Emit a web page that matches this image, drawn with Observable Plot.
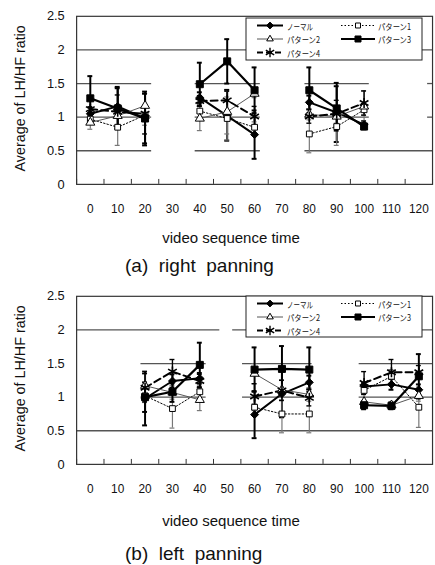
<!DOCTYPE html>
<html><head><meta charset="utf-8">
<script src="https://cdn.jsdelivr.net/npm/d3@7"></script>
<script src="https://cdn.jsdelivr.net/npm/@observablehq/plot@0.6"></script>
<style>
body{margin:0;background:#fff;overflow:hidden}
#wrap{position:relative;width:435px;height:565px;overflow:hidden;background:#fff;font-family:"Liberation Sans",Arial,sans-serif}
.panel{position:absolute;left:0}
#overlay{position:absolute;left:0;top:0;pointer-events:none}
</style></head><body><div id="wrap"></div>
<script>
// ---- data ----
const times = [0,10,20,30,40,50,60,70,80,90,100,110,120];
const yTicks = [0,0.5,1,1.5,2,2.5];
const seriesNames = ["ノーマル","パターン1","パターン2","パターン3","パターン4"];
const yTitle = "Average of LH/HF ratio";
const xTitle = "video sequence time";
const panelTitles = ["(a)  right  panning","(b)  left  panning"];

// right panning
const rNormal  = [1.05,1.16,0.98,null,1.29,1.02,0.74,null,1.22,1.07,0.89,null,null];
const rNormalE = [0.10,0.29,0.40,null,0.08,0.37,0.36,null,0.10,0.44,0.05,null,null];
const rP1      = [0.97,0.85,1.03,null,1.09,0.98,0.85,null,0.75,0.86,1.11,null,null];
const rP1E     = [0.06,0.27,0.15,null,0.10,0.32,0.08,null,0.28,0.28,0.08,null,null];
const rP2      = [0.92,1.02,1.17,null,0.98,1.08,1.35,null,1.04,1.01,1.16,null,null];
const rP2E     = [0.10,0.15,0.18,null,0.18,0.33,0.06,null,0.08,0.10,0.23,null,null];
const rP3      = [1.28,1.13,0.98,null,1.49,1.83,1.40,null,1.40,1.13,0.86,null,null];
const rP3E     = [0.33,0.30,0.37,null,0.32,0.33,0.34,null,0.34,0.33,0.04,null,null];
const rP4      = [1.12,1.08,1.05,null,1.24,1.25,1.01,null,1.01,1.05,1.21,null,null];
const rP4E     = [0.14,0.25,0.30,null,0.08,0.16,0.15,null,0.10,0.20,0.18,null,null];

// left panning
const lNormal  = [null,null,0.98,1.24,1.28,null,0.74,1.05,1.22,null,1.16,1.19,1.11];
const lNormalE = [null,null,0.40,0.10,0.08,null,0.35,0.35,0.10,null,0.05,0.08,0.08];
const lP1      = [null,null,1.02,0.83,1.08,null,0.85,0.75,0.75,null,1.10,1.31,0.85];
const lP1E     = [null,null,0.10,0.29,0.10,null,0.05,0.28,0.28,null,0.05,0.10,0.30];
const lP2      = [null,null,1.17,1.07,0.96,null,1.35,1.11,1.04,null,0.93,0.88,1.02];
const lP2E     = [null,null,0.18,0.10,0.16,null,0.15,0.15,0.10,null,0.11,0.05,0.08];
const lP3      = [null,null,1.00,1.08,1.48,null,1.41,1.42,1.41,null,0.88,0.87,1.31];
const lP3E     = [null,null,0.22,0.15,0.33,null,0.33,0.34,0.33,null,0.06,0.05,0.33];
const lP4      = [null,null,1.14,1.38,1.24,null,1.01,1.10,0.99,null,1.21,1.37,1.37];
const lP4E     = [null,null,0.21,0.18,0.10,null,0.19,0.15,0.12,null,0.17,0.19,0.10];

// partial gridline segments (data units)
const gridRight = [
  {y:2, x1:-5, x2:125},
  {y:1.5, x1:-5, x2:22.4},{y:1.5, x1:38.3, x2:62.1},{y:1.5, x1:78.4, x2:101.9},{y:1.5, x1:123.2, x2:125},
  {y:1, x1:-5, x2:22.4},{y:1, x1:38.3, x2:62.1},{y:1, x1:78.4, x2:101.9},{y:1, x1:123.2, x2:125},
  {y:0.5, x1:-5, x2:22.4},{y:0.5, x1:38.3, x2:62.1},{y:0.5, x1:78.4, x2:125}
];
const gridLeft = [
  {y:2, x1:-5, x2:47.3},{y:2, x1:52, x2:125},
  {y:1.5, x1:18.5, x2:42.3},{y:1.5, x1:55.6, x2:81},{y:1.5, x1:98.2, x2:125},
  {y:1, x1:18.5, x2:42.3},{y:1, x1:55.6, x2:81},{y:1, x1:98.2, x2:125},
  {y:0.5, x1:-5, x2:125}
];

// ---- styles ----
const styles = [
  {symbol:"diamond2", fill:"#000", stroke:"#000", r:3.6, lw:2,   dash:null,    ec:"#000", ew:2,   lr:0.85},
  {symbol:"square",   fill:"#fff", stroke:"#000", r:3.3, lw:1,   dash:"1.5,2", ec:"#777", ew:1.2, lr:0.85},
  {symbol:"triangle", fill:"#fff", stroke:"#000", r:3.4, lw:1,   dash:null,    ec:"#777", ew:1.2, lc:"#555", lr:0.72},
  {symbol:"square",   fill:"#000", stroke:"#000", r:4.0, lw:2.2, dash:null,    ec:"#000", ew:2,   lr:0.85},
  {symbol:"asterisk", fill:"none", stroke:"#000", r:4.8, lw:2,   dash:"7,4",   ec:"#000", ew:1.4, lr:0.95}
];

const wrap = document.getElementById("wrap");
const bounds = d3.range(-5, 126, 10);

function rows(vals, errs) {
  return times.map((t, i) => ({t, v: vals[i], e: errs[i]}));
}

function panel(seriesVals, seriesErrs, grid, top) {
  const marks = [
    Plot.ruleY(grid, {y:"y", x1:"x1", x2:"x2", stroke:"#555", strokeWidth:1.3}),
    Plot.frame({stroke:"#333", strokeWidth:1.2}),
    Plot.axisY({ticks: yTicks, tickSize:0, tickPadding:12, fontSize:13, label:null, tickFormat: d => String(d)}),
    Plot.axisX({ticks: times, tickSize:0, tickPadding:20, fontSize:12, label:null, tickFormat: d => String(d)}),
    Plot.axisX({ticks: bounds, tickSize:5, dy:-5, label:null, tickFormat: () => "", stroke:"#333"}),
    Plot.text([yTitle], {frameAnchor:"left", textAnchor:"middle", rotate:-90, dx:-57, dy:-2, fontSize:14.5, fill:"#111"})
  ];
  seriesVals.forEach((vals, k) => {
    const s = styles[k];
    const data = rows(vals, seriesErrs[k]);
    const pts = data.filter(d => d.v != null);
    marks.push(
      Plot.ruleX(pts, {x:"t", y1: d => d.v - d.e, y2: d => d.v + d.e, stroke:s.ec, strokeWidth:s.ew}),
      Plot.ruleY(pts, {y: d => d.v + d.e, x1: d => d.t - 0.9, x2: d => d.t + 0.9, stroke:s.ec, strokeWidth:s.ew}),
      Plot.ruleY(pts, {y: d => d.v - d.e, x1: d => d.t - 0.9, x2: d => d.t + 0.9, stroke:s.ec, strokeWidth:s.ew})
    );
  });
  seriesVals.forEach((vals, k) => {
    const s = styles[k];
    const data = rows(vals, seriesErrs[k]);
    marks.push(
      Plot.line(data, {x:"t", y:"v", stroke: s.lc || "#000", strokeWidth:s.lw, strokeDasharray:s.dash})
    );
  });
  seriesVals.forEach((vals, k) => {
    const s = styles[k];
    const pts = rows(vals, seriesErrs[k]).filter(d => d.v != null);
    marks.push(
      Plot.dot(pts, {x:"t", y:"v", symbol: () => s.symbol, r:s.r, fill:s.fill, stroke:s.stroke, strokeWidth: s.symbol === "asterisk" ? 1.6 : 1})
    );
  });
  const chart = Plot.plot({
    width: 440, height: 220,
    marginLeft: 77, marginRight: 3, marginTop: 16, marginBottom: 34,
    x: {type:"linear", domain:[-5,125], axis:null},
    y: {domain:[0,2.5], axis:null},
    symbol: {type:"identity"},
    style: {fontFamily:'"Liberation Sans", Arial, sans-serif', color:"#111", background:"transparent"},
    marks
  });
  const div = document.createElement("div");
  div.className = "panel";
  div.style.top = top + "px";
  div.appendChild(chart);
  wrap.appendChild(div);
}

panel([rNormal, rP1, rP2, rP3, rP4], [rNormalE, rP1E, rP2E, rP3E, rP4E], gridRight, 0);
panel([lNormal, lP1, lP2, lP3, lP4], [lNormalE, lP1E, lP2E, lP3E, lP4E], gridLeft, 280);

// ---- overlay: legends and titles ----
const svg = d3.select(wrap).append("svg").attr("id","overlay").attr("width",435).attr("height",565);

function legend(x0, y0, h) {
  const g = svg.append("g").attr("transform", `translate(${x0},${y0})`);
  g.append("rect").attr("x",0).attr("y",0).attr("width",176).attr("height",h)
    .attr("fill","#fff").attr("stroke","#222").attr("stroke-width",1);
  const pos = [
    {col:0,row:0},{col:1,row:0},{col:0,row:1},{col:1,row:1},{col:0,row:2}
  ];
  const rowY = [7.5, 21, 34.5];
  const colDef = [
    {l1:11, l2:37, m:24, tx:41},
    {l1:95, l2:129, m:112, tx:132}
  ];
  const symMap = {diamond2:d3.symbolDiamond2, square:d3.symbolSquare, triangle:d3.symbolTriangle, asterisk:d3.symbolAsterisk};
  seriesNames.forEach((name, k) => {
    const s = styles[k], p = pos[k], c = colDef[p.col], y = rowY[p.row];
    const rr = s.r * s.lr;
    g.append("line").attr("x1",c.l1).attr("x2",c.l2).attr("y1",y).attr("y2",y)
      .attr("stroke", s.lc || "#000").attr("stroke-width", s.lw)
      .attr("stroke-dasharray", s.dash ? (k === 4 ? "6,3" : s.dash) : null);
    g.append("path").attr("transform",`translate(${c.m},${y})`)
      .attr("d", d3.symbol(symMap[s.symbol], Math.PI * rr * rr)())
      .attr("fill", s.fill).attr("stroke", s.stroke).attr("stroke-width", s.symbol === "asterisk" ? 1.4 : 1);
    g.append("text").attr("x", c.tx).attr("y", y).attr("dominant-baseline","central")
      .attr("font-family",'"Noto Sans CJK JP", sans-serif').attr("font-size",8.5)
      .attr("textLength", name.length === 4 ? 26 : 33).attr("lengthAdjust","spacingAndGlyphs")
      .attr("fill","#111").text(name);
  });
}
legend(246, 18, 42);
legend(246, 296, 41);

function txt(s, x, y, size, anchor) {
  svg.append("text").attr("x", x).attr("y", y).attr("dominant-baseline","central")
    .attr("text-anchor", anchor).attr("font-size", size)
    .attr("font-family",'"Liberation Sans", Arial, sans-serif').attr("fill","#111")
    .attr("xml:space","preserve").style("white-space","pre").text(s);
}
txt(xTitle, 231, 237, 15, "middle");
txt(panelTitles[0], 125, 265, 19, "start");
txt(xTitle, 231, 520, 15, "middle");
txt(panelTitles[1], 125, 553, 19, "start");
</script></body></html>
